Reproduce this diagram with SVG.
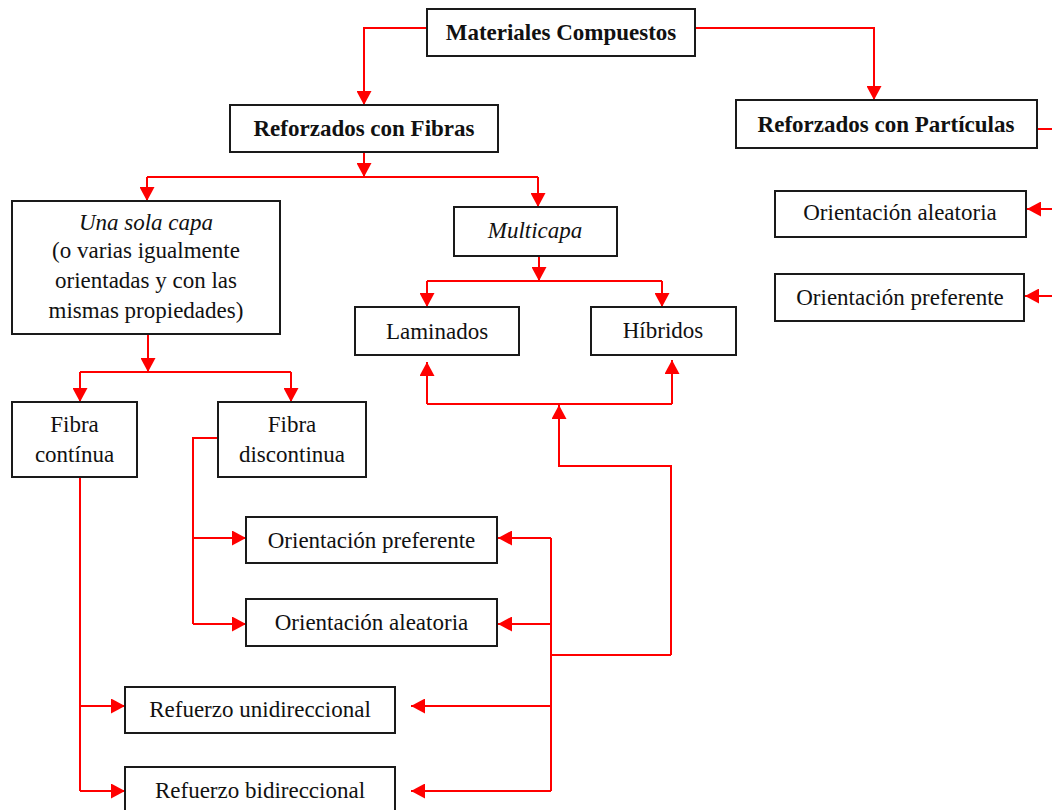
<svg xmlns="http://www.w3.org/2000/svg" width="1052" height="810" viewBox="0 0 1052 810">
<style>
.box{fill:#fff;stroke:#1a1a1a;stroke-width:2}
.t{font-family:"Liberation Serif","Times New Roman",serif;font-size:23px;fill:#111;text-anchor:middle}
.b{font-weight:bold}
.i{font-style:italic}
.c{fill:none;stroke:#ff0000;stroke-width:2}
</style>
<defs>
<marker id="ah" markerUnits="userSpaceOnUse" markerWidth="15" markerHeight="15" refX="14" refY="7.5" orient="auto" viewBox="0 0 15 15">
<path d="M0,0 L14,7.5 L0,15 z" fill="#ff0000"/>
</marker>
</defs>
<rect width="1052" height="810" fill="#fff"/>
<g id="connectors">
<path class="c" d="M427,28 H364 V105" marker-end="url(#ah)"/>
<path class="c" d="M695,28 H874 V100" marker-end="url(#ah)"/>
<path class="c" d="M364,152 V177" marker-end="url(#ah)"/>
<path class="c" d="M147,177 H538"/>
<path class="c" d="M147,177 V201" marker-end="url(#ah)"/>
<path class="c" d="M538,177 V207" marker-end="url(#ah)"/>
<path class="c" d="M1037,129 H1052"/>
<path class="c" d="M1052,209 H1027" marker-end="url(#ah)"/>
<path class="c" d="M1052,296 H1025" marker-end="url(#ah)"/>
<path class="c" d="M148,334 V372" marker-end="url(#ah)"/>
<path class="c" d="M80,372 H291"/>
<path class="c" d="M80,372 V402" marker-end="url(#ah)"/>
<path class="c" d="M291,372 V402" marker-end="url(#ah)"/>
<path class="c" d="M539,256 V281" marker-end="url(#ah)"/>
<path class="c" d="M427,281 H662"/>
<path class="c" d="M427,281 V307" marker-end="url(#ah)"/>
<path class="c" d="M662,281 V307" marker-end="url(#ah)"/>
<path class="c" d="M427,404 V362" marker-end="url(#ah)"/>
<path class="c" d="M672,404 V360" marker-end="url(#ah)"/>
<path class="c" d="M427,404 H672"/>
<path class="c" d="M671,655 V466 H559 V405" marker-end="url(#ah)"/>
<path class="c" d="M80,477 V791"/>
<path class="c" d="M80,706 H125" marker-end="url(#ah)"/>
<path class="c" d="M80,791 H125" marker-end="url(#ah)"/>
<path class="c" d="M218,438 H193 V624"/>
<path class="c" d="M193,538 H246" marker-end="url(#ah)"/>
<path class="c" d="M193,624 H246" marker-end="url(#ah)"/>
<path class="c" d="M551,538 V791"/>
<path class="c" d="M551,655 H671"/>
<path class="c" d="M551,538 H498" marker-end="url(#ah)"/>
<path class="c" d="M551,624 H498" marker-end="url(#ah)"/>
<path class="c" d="M551,706 H411" marker-end="url(#ah)"/>
<path class="c" d="M551,791 H411" marker-end="url(#ah)"/>
</g>
<g id="n-materiales"><rect class="box" x="427" y="9" width="268" height="47"/><text class="t b" x="561" y="40">Materiales Compuestos</text></g>
<g id="n-fibras"><rect class="box" x="230" y="105" width="268" height="47"/><text class="t b" x="364" y="136">Reforzados con Fibras</text></g>
<g id="n-particulas"><rect class="box" x="736" y="100" width="301" height="48"/><text class="t b" x="886" y="132">Reforzados con Partículas</text></g>
<g id="n-p-aleatoria"><rect class="box" x="775" y="191" width="251" height="46"/><text class="t" x="900" y="220">Orientación aleatoria</text></g>
<g id="n-p-preferente"><rect class="box" x="775" y="274" width="249" height="47"/><text class="t" x="900" y="305">Orientación preferente</text></g>
<g id="n-unasola"><rect class="box" x="12" y="201" width="268" height="133"/>
<text class="t" x="146" y="230"><tspan class="i">Una sola capa</tspan></text>
<text class="t" x="146" y="258">(o varias igualmente</text>
<text class="t" x="146" y="288">orientadas y con las</text>
<text class="t" x="146" y="318">mismas propiedades)</text></g>
<g id="n-multicapa"><rect class="box" x="454" y="207" width="163" height="49"/><text class="t i" x="535" y="238">Multicapa</text></g>
<g id="n-laminados"><rect class="box" x="355" y="307" width="164" height="48"/><text class="t" x="437" y="339">Laminados</text></g>
<g id="n-hibridos"><rect class="box" x="591" y="307" width="145" height="48"/><text class="t" x="663" y="338">Híbridos</text></g>
<g id="n-continua"><rect class="box" x="12" y="402" width="125" height="75"/><text class="t" x="74.5" y="432">Fibra</text><text class="t" x="74.5" y="462">contínua</text></g>
<g id="n-discontinua"><rect class="box" x="218" y="402" width="148" height="75"/><text class="t" x="292" y="432">Fibra</text><text class="t" x="292" y="462">discontinua</text></g>
<g id="n-preferente"><rect class="box" x="246" y="517" width="251" height="46"/><text class="t" x="371.5" y="548">Orientación preferente</text></g>
<g id="n-aleatoria"><rect class="box" x="246" y="599" width="251" height="47"/><text class="t" x="371.5" y="630">Orientación aleatoria</text></g>
<g id="n-unidireccional"><rect class="box" x="125" y="687" width="270" height="46"/><text class="t" x="260" y="717">Refuerzo unidireccional</text></g>
<g id="n-bidireccional"><rect class="box" x="125" y="767" width="270" height="50"/><text class="t" x="260" y="798">Refuerzo bidireccional</text></g>
</svg>
